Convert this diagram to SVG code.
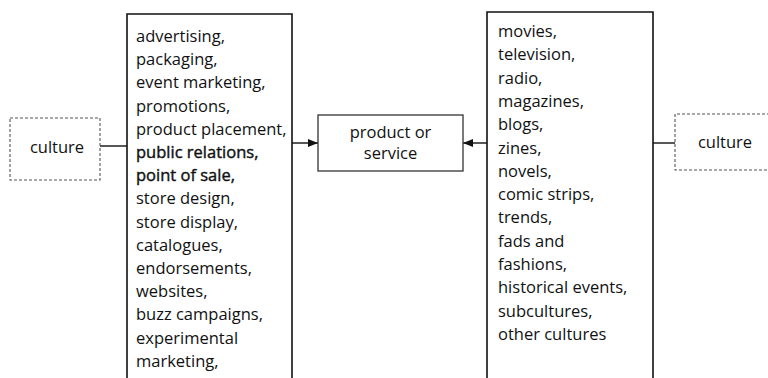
<svg xmlns="http://www.w3.org/2000/svg" width="768" height="378" viewBox="0 0 768 378">
<style>
  .t { font-family: "Open Sans", "Noto Sans", "DejaVu Sans", sans-serif; font-size: 16.5px; fill: #111111; }
  .b { stroke: #111111; stroke-width: 0.4; }
  .box { fill: none; stroke: #111111; stroke-width: 1.6; }
  .pbox { fill: #ffffff; stroke: #333333; stroke-width: 1.3; }
  .cbox { fill: none; stroke: #555555; stroke-width: 1.1; stroke-dasharray: 3 2; }
  .conn { fill: none; stroke: #111111; stroke-width: 1.4; }
</style>
<defs>
  <marker id="ah" viewBox="0 0 10 8" refX="10" refY="4" markerWidth="10" markerHeight="8" markerUnits="userSpaceOnUse" orient="auto">
    <path d="M0,0 L10,4 L0,8 Z" fill="#111111"/>
  </marker>
</defs>
<rect width="768" height="378" fill="#ffffff"/>

<g id="connectors">
  <line class="conn" x1="100" y1="146" x2="127" y2="146"/>
  <line class="conn" x1="292" y1="143" x2="318" y2="143" marker-end="url(#ah)"/>
  <line class="conn" x1="487" y1="143" x2="463" y2="143" marker-end="url(#ah)"/>
  <line class="conn" x1="653" y1="143" x2="675" y2="143"/>
</g>

<g id="culture-left">
  <rect class="cbox" x="10" y="118" width="90" height="62"/>
  <text class="t" x="57" y="153" text-anchor="middle">culture</text>
</g>

<g id="marketing-box">
  <path class="box" d="M127,378 L127,14 L292,14 L292,378"/>
  <text class="t">
    <tspan x="136" y="42">advertising,</tspan>
    <tspan x="136" y="65.2">packaging,</tspan>
    <tspan x="136" y="88.4">event marketing,</tspan>
    <tspan x="136" y="111.6">promotions,</tspan>
    <tspan x="136" y="134.8">product placement,</tspan>
    <tspan x="136" y="158" class="b">public relations,</tspan>
    <tspan x="136" y="181.2" class="b">point of sale,</tspan>
    <tspan x="136" y="204.4">store design,</tspan>
    <tspan x="136" y="227.6">store display,</tspan>
    <tspan x="136" y="250.8">catalogues,</tspan>
    <tspan x="136" y="274">endorsements,</tspan>
    <tspan x="136" y="297.2">websites,</tspan>
    <tspan x="136" y="320.4">buzz campaigns,</tspan>
    <tspan x="136" y="343.6">experimental</tspan>
    <tspan x="136" y="366.8">marketing,</tspan>
  </text>
</g>

<g id="product">
  <rect class="pbox" x="318" y="115" width="145" height="56"/>
  <text class="t" x="390.5" y="138" text-anchor="middle">product or</text>
  <text class="t" x="390.5" y="159" text-anchor="middle">service</text>
</g>

<g id="media-box">
  <path class="box" d="M487,378 L487,12 L653,12 L653,378"/>
  <text class="t">
    <tspan x="498" y="37">movies,</tspan>
    <tspan x="498" y="60.3">television,</tspan>
    <tspan x="498" y="83.6">radio,</tspan>
    <tspan x="498" y="106.9">magazines,</tspan>
    <tspan x="498" y="130.2">blogs,</tspan>
    <tspan x="498" y="153.5">zines,</tspan>
    <tspan x="498" y="176.8">novels,</tspan>
    <tspan x="498" y="200.1">comic strips,</tspan>
    <tspan x="498" y="223.4">trends,</tspan>
    <tspan x="498" y="246.7">fads and</tspan>
    <tspan x="498" y="270">fashions,</tspan>
    <tspan x="498" y="293.3">historical events,</tspan>
    <tspan x="498" y="316.6">subcultures,</tspan>
    <tspan x="498" y="339.9">other cultures</tspan>
  </text>
</g>

<g id="culture-right">
  <path class="cbox" d="M770,114 L675,114 L675,170 L770,170"/>
  <text class="t" x="725" y="148" text-anchor="middle">culture</text>
</g>
</svg>
